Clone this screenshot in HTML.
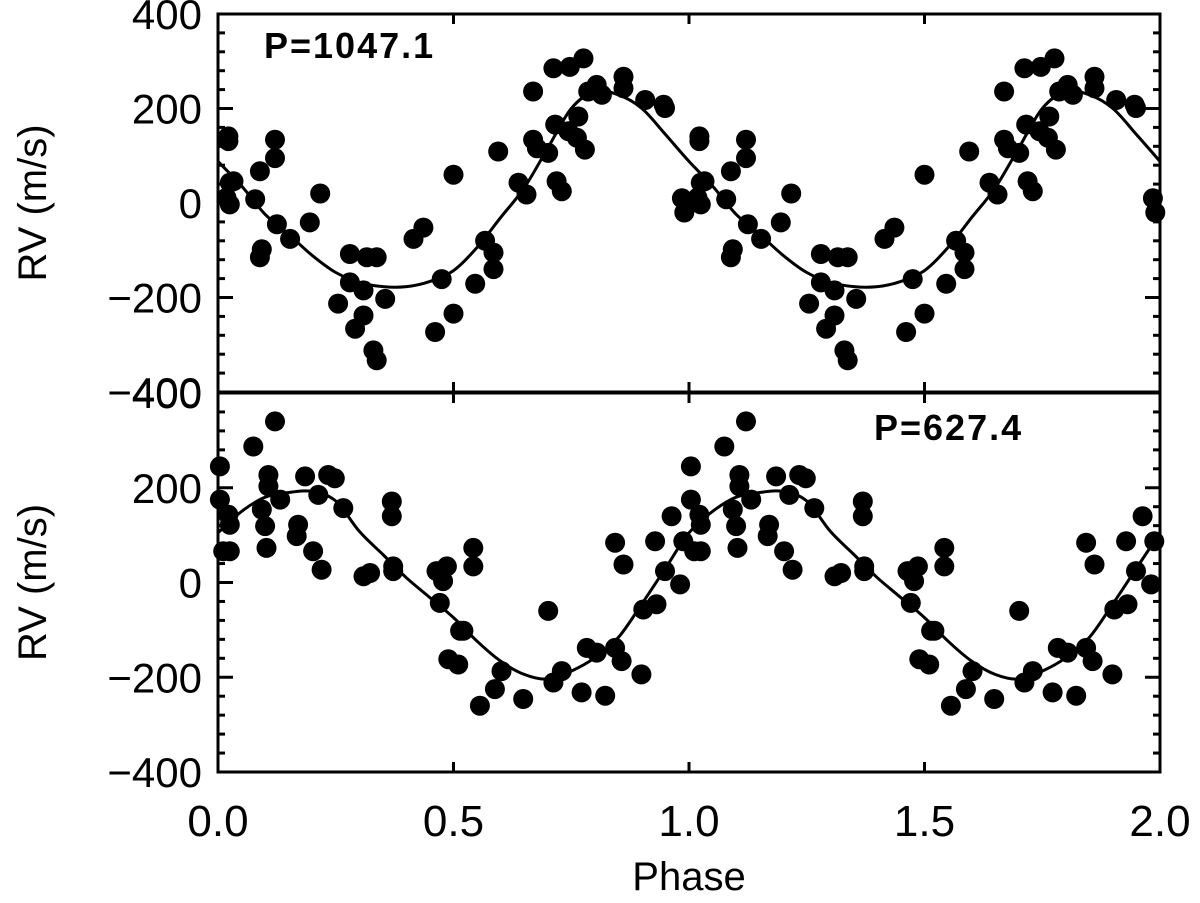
<!DOCTYPE html>
<html><head><meta charset="utf-8"><style>
html,body{margin:0;padding:0;background:#fff;}
svg{display:block;}
text{font-family:"Liberation Sans",sans-serif;fill:#000;}
</style></head><body>
<svg id="chart" width="1200" height="903" viewBox="0 0 1200 903"></svg>
<script>
// ---- data ----
const topPhase=[.022,.022,.025,.018,.033,.025,.121,.121,.089,.079,.125,.153,.093,.089,.195,.217,.280,.280,.316,.337,.309,.255,.309,.291,.355,.330,.337,.415,.436,.500,.475,.461,.500,.546,.567,.585,.585,.595,.669,.669,.677,.638,.655,.701,.719,.730,.716,.712,.747,.776,.744,.762,.779,.765,.786,.804,.815,.861,.861,.907,.946,.949,.985,.99];
const topRV=[141,131,43,11,46,-3,134,95,67,8,-45,-76,-98,-115,-41,20,-108,-168,-115,-115,-185,-213,-238,-266,-203,-312,-333,-76,-52,60,-161,-273,-234,-171,-80,-105,-140,109,236,134,116,43,18,106,46,25,166,285,288,306,152,138,113,183,236,250,229,267,243,218,208,201,10,-20];
const topFitPhase=[0,.05,.1,.15,.2,.25,.3,.35,.4,.45,.5,.55,.6,.65,.7,.75,.8,.85,.9,.95,1];
const topFitRV=[88,36,-24,-66,-111,-147,-168,-177,-177,-166,-143,-94,-31,32,116,200,236,229,200,145,88];
const botPhase=[.004,.004,.022,.025,.025,.011,.075,.121,.107,.107,.132,.093,.100,.103,.185,.213,.234,.248,.170,.167,.202,.220,.266,.369,.369,.309,.323,.372,.372,.464,.486,.478,.542,.542,.471,.514,.521,.489,.510,.602,.588,.556,.648,.701,.712,.730,.772,.822,.783,.804,.843,.857,.899,.843,.861,.928,.963,.949,.981,.903,.931,.988];
const botRV=[245,175,143,122,66,66,287,340,227,203,175,154,119,73,224,185,227,220,122,98,66,27,157,171,140,13,20,34,24,24,34,3,73,34,-43,-102,-102,-162,-173,-187,-225,-260,-246,-60,-211,-187,-232,-239,-138,-148,-138,-166,-194,84,38,87,140,24,-4,-57,-46,87];
const botFitPhase=[0,.05,.1,.15,.2,.25,.3,.35,.4,.45,.5,.55,.6,.65,.7,.75,.8,.85,.9,.95,1];
const botFitRV=[105,150,180,190,192,172,108,59,10,-32,-74,-124,-166,-194,-204,-187,-159,-116,-45,30,105];
const yTicks=[-400,-200,0,200,400];
const xTicks=[0,0.5,1,1.5,2];
const xTickLabels=["0.0","0.5","1.0","1.5","2.0"];

const NS="http://www.w3.org/2000/svg";
const svg=document.getElementById('chart');
const X0=218,X1=1160;
const xs=p=>X0+(X1-X0)*p/2;
function mk(tag,attrs,parent){const e=document.createElementNS(NS,tag);for(const k in attrs)e.setAttribute(k,attrs[k]);(parent||svg).appendChild(e);return e;}

function smoothPath(pts){
  let d='M'+pts[0][0].toFixed(1)+','+pts[0][1].toFixed(1);
  for(let i=0;i<pts.length-1;i++){
    const p0=pts[Math.max(0,i-1)],p1=pts[i],p2=pts[i+1],p3=pts[Math.min(pts.length-1,i+2)];
    const c1x=p1[0]+(p2[0]-p0[0])/6,c1y=p1[1]+(p2[1]-p0[1])/6;
    const c2x=p2[0]-(p3[0]-p1[0])/6,c2y=p2[1]-(p3[1]-p1[1])/6;
    d+='C'+c1x.toFixed(1)+','+c1y.toFixed(1)+' '+c2x.toFixed(1)+','+c2y.toFixed(1)+' '+p2[0].toFixed(1)+','+p2[1].toFixed(1);
  }
  return d;
}

function panel(name,top,bottom,phase,rv,fp,fr,label,lx,ly){
  const g=mk('g',{});
  
  
  const ys=v=>bottom-(v+400)/800*(bottom-top);
  const pts=[];
  for(let c=0;c<2;c++){for(let i=0;i<fp.length;i++){if(c===1&&i===0)continue;pts.push([xs(fp[i]+c),ys(fr[i])]);}}
  const path=mk('path',{d:smoothPath(pts),fill:'none',stroke:'#000','stroke-width':3,'stroke-linejoin':'round'},g);
  
  
  for(let c=0;c<2;c++){for(let i=0;i<phase.length;i++){
    const cx=xs(phase[i]+c);if(cx>X1+3)continue;
    const dot=mk('circle',{cx:cx.toFixed(1),cy:ys(rv[i]).toFixed(1),r:10,fill:'#000'},g);
    
    
  }}
  const fr2=mk('rect',{x:X0,y:top,width:X1-X0,height:bottom-top,fill:'none',stroke:'#000','stroke-width':3},g);
  
  
  for(let v=-400;v<=400;v+=40){
    const major=v%200===0;const L=major?15:7;const y=ys(v);
    mk('line',{x1:X0,x2:X0+L,y1:y,y2:y,stroke:'#000','stroke-width':3},g);
    mk('line',{x1:X1,x2:X1-L,y1:y,y2:y,stroke:'#000','stroke-width':3},g);
  }
  yTicks.forEach(v=>{
    const t=mk('text',{x:202,y:ys(v)+15,'text-anchor':'end','font-size':42},g);
    t.textContent=(v<0?'\u2212':'')+Math.abs(v);
    
    
  });
  xTicks.forEach(p=>{
    const x=xs(p);
    mk('line',{x1:x,x2:x,y1:bottom,y2:bottom-10,stroke:'#000','stroke-width':3},g);
    mk('line',{x1:x,x2:x,y1:top,y2:top+10,stroke:'#000','stroke-width':3},g);
  });
  const yl=mk('text',{x:0,y:0,'text-anchor':'middle','font-size':40,transform:`translate(46,${(top+bottom)/2}) rotate(-90)`},g);
  yl.textContent='RV (m/s)';
  
  
  const pl=mk('text',{x:lx,y:ly,'font-size':36,'font-weight':'bold','letter-spacing':2},g);
  pl.textContent=label;
  
  
}
panel('top',14,392,topPhase,topRV,topFitPhase,topFitRV,'P=1047.1',264,58);
panel('bottom',393,772,botPhase,botRV,botFitPhase,botFitRV,'P=627.4',874,440);
xTicks.forEach((p,i)=>{
  const t=mk('text',{x:xs(p),y:836,'text-anchor':'middle','font-size':44});
  t.textContent=xTickLabels[i];
  
  
});
const xt=mk('text',{x:689,y:890,'text-anchor':'middle','font-size':40});
xt.textContent='Phase';


</script>
</body></html>
